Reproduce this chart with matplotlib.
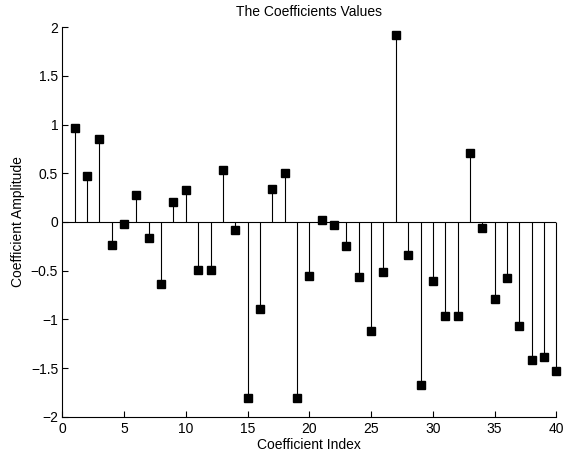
import numpy as np
import matplotlib.pyplot as plt

plt.rcParams["font.family"] = ["Liberation Sans", "DejaVu Sans"]

# coefficient amplitudes, index 1..40
idx = np.arange(1, 41)
coeffs = [
    0.97, 0.47, 0.853, -0.232, -0.016, 0.274, -0.164, -0.633, 0.202, 0.333,
    -0.496, -0.49, 0.538, -0.078, -1.809, -0.894, 0.339, 0.508, -1.805, -0.558,
    0.021, -0.034, -0.25, -0.568, -1.116, -0.514, 1.926, -0.335, -1.678, -0.609,
    -0.969, -0.962, 0.713, -0.058, -0.787, -0.579, -1.072, -1.418, -1.384, -1.531,
]

fig = plt.figure(figsize=(5.64, 4.58), dpi=100)
ax = fig.add_axes([0.1105, 0.0902, 0.876, 0.8502])

ax.axhline(0, color="black", lw=0.8, zorder=1)
markers, stems, base = ax.stem(idx, coeffs, linefmt="k-", markerfmt="ks", basefmt=" ")
stems.set_linewidth(0.8)
stems.set_clip_on(False)
markers.set_markersize(5.3)
markers.set_zorder(3)
markers.set_clip_on(False)

ax.set_xlim(0, 40)
ax.set_ylim(-2, 2)
ax.set_xticks(np.arange(0, 41, 5))
ax.set_yticks(np.arange(-2, 2.01, 0.5))
ax.set_yticklabels(["\u22122", "\u22121.5", "\u22121", "\u22120.5", "0", "0.5", "1", "1.5", "2"])

for s in ["top", "right"]:
    ax.spines[s].set_visible(False)
for s in ["left", "bottom"]:
    ax.spines[s].set_linewidth(0.8)
ax.tick_params(direction="in", length=4, width=0.8, labelsize=10)
ax.tick_params(axis="x", pad=4)
ax.tick_params(axis="y", pad=3)

ax.set_title("The Coefficients Values", fontsize=10, pad=8)
ax.set_xlabel("Coefficient Index", fontsize=10, labelpad=1)
ax.set_ylabel("Coefficient Amplitude", fontsize=10, labelpad=4)

fig.savefig("out.png", dpi=100)
